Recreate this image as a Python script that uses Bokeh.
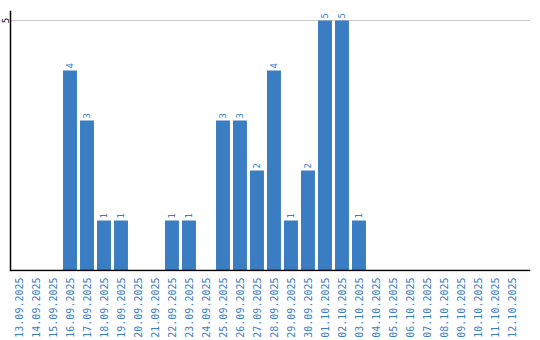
from bokeh.plotting import figure
from bokeh.models import FixedTicker, Range1d, ColumnDataSource, Span
from bokeh.embed import file_html
from bokeh.resources import INLINE
from bokeh.core.properties import value
import math

dates = ["13.09.2025", "14.09.2025", "15.09.2025", "16.09.2025", "17.09.2025",
         "18.09.2025", "19.09.2025", "20.09.2025", "21.09.2025", "22.09.2025",
         "23.09.2025", "24.09.2025", "25.09.2025", "26.09.2025", "27.09.2025",
         "28.09.2025", "29.09.2025", "30.09.2025", "01.10.2025", "02.10.2025",
         "03.10.2025", "04.10.2025", "05.10.2025", "06.10.2025", "07.10.2025",
         "08.10.2025", "09.10.2025", "10.10.2025", "11.10.2025", "12.10.2025"]
counts = [0, 0, 0, 4, 3, 1, 1, 0, 0, 1, 1, 0, 3, 3, 2, 4, 1, 2, 5, 5, 1,
          0, 0, 0, 0, 0, 0, 0, 0, 0]
y_ticks = [5]

BLUE = "#3b7dc2"
FONT = "DejaVu Sans Mono"

idx = list(range(len(dates)))
src = ColumnDataSource(dict(x=idx, top=counts))
lab = ColumnDataSource(dict(
    x=[i for i, c in zip(idx, counts) if c > 0],
    y=[c for c in counts if c > 0],
    t=[str(c) for c in counts if c > 0]))

X0 = -0.5          # left edge of the first category (axis position)
XSTART = X0 - 10 / 17
XEND = 30.09
p = figure(width=540, height=340, output_backend="svg", toolbar_location=None,
           x_range=Range1d(XSTART, XEND), y_range=Range1d(-0.02, 5.2),
           y_axis_location=None,
           min_border_left=0, min_border_right=10, min_border_top=10,
           min_border_bottom=69)
p.outline_line_color = None
p.background_fill_color = "white"

p.ygrid.ticker = FixedTicker(ticks=y_ticks)
p.ygrid.grid_line_color = None
p.xgrid.grid_line_color = None

# gridline at the y ticks, starting at the axis
p.segment(x0=[X0] * len(y_ticks), x1=[XEND] * len(y_ticks), y0=y_ticks,
          y1=y_ticks, line_color="#cccccc", line_width=1)

p.vbar(x="x", top="top", width=0.82, bottom=0, source=src,
       fill_color=BLUE, line_color=None)
p.text(x="x", y="y", text="t", source=lab, angle=math.pi / 2,
       text_align="left", text_baseline="middle", x_offset=0, y_offset=-2,
       text_color=BLUE, text_font=value(FONT), text_font_size="9px")

# axis lines
p.add_layout(Span(location=X0, dimension="height", line_color="black",
                  line_width=1.5))
p.segment(x0=[X0], x1=[XEND], y0=[0], y1=[0], line_color="black",
          line_width=1.5)

# y tick labels
p.text(x=[X0] * len(y_ticks), y=y_ticks, text=[str(t) for t in y_ticks],
       x_offset=-5, angle=math.pi / 2, text_align="center",
       text_baseline="middle", text_color="black", text_font=value(FONT),
       text_font_size="9px")

p.xaxis.ticker = FixedTicker(ticks=idx)
p.xaxis.major_label_overrides = {i: d for i, d in enumerate(dates)}
p.xaxis.major_label_orientation = math.pi / 2
p.xaxis.major_label_text_color = BLUE
p.xaxis.major_label_text_font = FONT
p.xaxis.major_label_text_font_size = "10px"
p.xaxis.major_tick_line_color = None
p.xaxis.minor_tick_line_color = None
p.xaxis.major_tick_out = 0
p.xaxis.major_tick_in = 0
p.xaxis.major_label_standoff = 6
p.xaxis.axis_line_color = None

open("out.html", "w").write(file_html(p, INLINE))
